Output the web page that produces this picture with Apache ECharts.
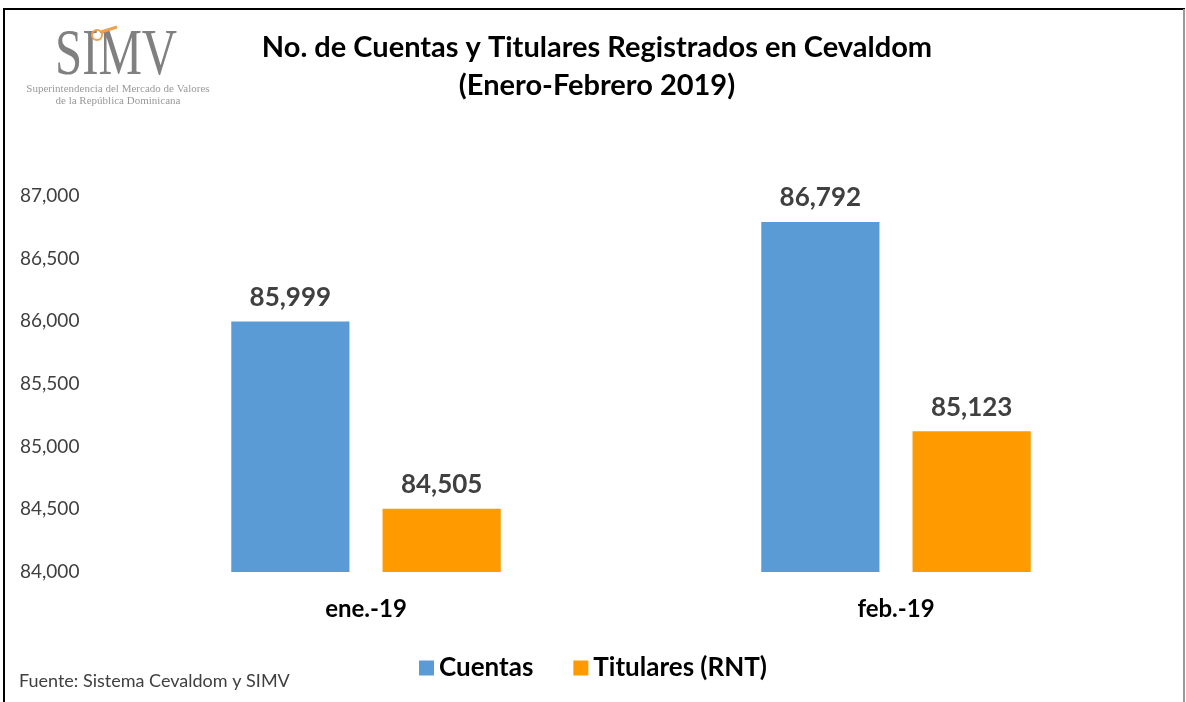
<!DOCTYPE html>
<html>
<head>
<meta charset="utf-8">
<script src="https://cdn.jsdelivr.net/npm/echarts@6/dist/echarts.min.js"></script>
<style>
  html, body { margin: 0; padding: 0; background: #fff; }
  #chart { width: 1186px; height: 702px; }
</style>
</head>
<body>
<div id="chart"></div>
<script>
// datos
const categories = ['ene.-19', 'feb.-19'];
const cuentas = [85999, 86792];
const titulares = [84505, 85123];
const seriesNames = ['Cuentas', 'Titulares (RNT)'];
const titleLines = ['No. de Cuentas y Titulares Registrados en Cevaldom', '(Enero-Febrero 2019)'];
const sourceText = 'Fuente: Sistema Cevaldom y SIMV';

const font = 'Lato, sans-serif';
const fmt = v => v.toLocaleString('en-US');

const chart = echarts.init(document.getElementById('chart'), null, { renderer: 'canvas' });

chart.setOption({
  backgroundColor: '#fff',
  animation: false,
  title: {
    text: titleLines.join('\n'),
    left: 597,
    textAlign: 'center',
    top: 29,
    padding: 0,
    textStyle: { fontFamily: font, fontSize: 29, fontWeight: 'bold', color: '#000', lineHeight: 38 }
  },
  legend: {
    data: seriesNames,
    left: 'center',
    top: 650,
    itemWidth: 15,
    itemHeight: 15,
    itemGap: 40,
    icon: 'rect',
    textStyle: { fontFamily: font, fontSize: 26, fontWeight: 'bold', color: '#000' }
  },
  grid: { left: 101, right: 25, top: 196, bottom: 130, containLabel: false },
  xAxis: {
    type: 'category',
    data: categories,
    axisLine: { show: false },
    axisTick: { show: false },
    axisLabel: { fontFamily: font, fontSize: 24, fontWeight: 'bold', color: '#000', margin: 25 }
  },
  yAxis: {
    type: 'value',
    min: 84000,
    max: 87000,
    interval: 500,
    splitLine: { show: false },
    axisLine: { show: false },
    axisTick: { show: false },
    axisLabel: {
      fontFamily: font, fontSize: 19, color: '#404040',
      align: 'left', margin: 81,
      formatter: v => fmt(v)
    }
  },
  series: [
    {
      name: seriesNames[0],
      type: 'bar',
      data: cuentas,
      barWidth: '22.3%',
      barGap: '28%',
      itemStyle: { color: '#5B9BD5' },
      label: {
        show: true, position: 'top', distance: 11,
        fontFamily: font, fontSize: 26, fontWeight: 'bold', color: '#404040',
        formatter: p => fmt(p.value)
      }
    },
    {
      name: seriesNames[1],
      type: 'bar',
      data: titulares,
      barWidth: '22.3%',
      itemStyle: { color: '#FF9A00' },
      label: {
        show: true, position: 'top', distance: 11,
        fontFamily: font, fontSize: 26, fontWeight: 'bold', color: '#404040',
        formatter: p => fmt(p.value)
      }
    }
  ],
  graphic: [
    // marco
    { type: 'rect', shape: { x: 4, y: 9, width: 1180, height: 700 }, style: { fill: 'none', stroke: '#000', lineWidth: 2 }, silent: true },
    { type: 'line', shape: { x1: 1184, y1: 9, x2: 1184, y2: 702 }, style: { stroke: '#999', lineWidth: 2 }, silent: true },
    // logo SIMV
    {
      type: 'text', left: 55, top: 24, scaleX: 0.74,
      style: { text: 'SIMV', font: '66px "Liberation Serif", serif', fill: '#808080' }
    },
    { type: 'circle', shape: { cx: 97, cy: 35, r: 5 }, style: { fill: 'none', stroke: '#F0A050', lineWidth: 2 } },
    { type: 'line', shape: { x1: 101, y1: 32, x2: 117, y2: 27 }, style: { stroke: '#F0A050', lineWidth: 3 } },
    {
      type: 'text', x: 118, y: 89,
      style: { text: 'Superintendencia del Mercado de Valores', font: '11px "Liberation Serif", serif', fill: '#999', align: 'center', verticalAlign: 'middle' }
    },
    {
      type: 'text', x: 118, y: 101,
      style: { text: 'de la República Dominicana', font: '11px "Liberation Serif", serif', fill: '#999', align: 'center', verticalAlign: 'middle' }
    },
    // fuente
    {
      type: 'text', x: 19, y: 681,
      style: { text: sourceText, font: '18px Lato, sans-serif', fill: '#404040', verticalAlign: 'middle' }
    }
  ]
});
</script>
</body>
</html>
